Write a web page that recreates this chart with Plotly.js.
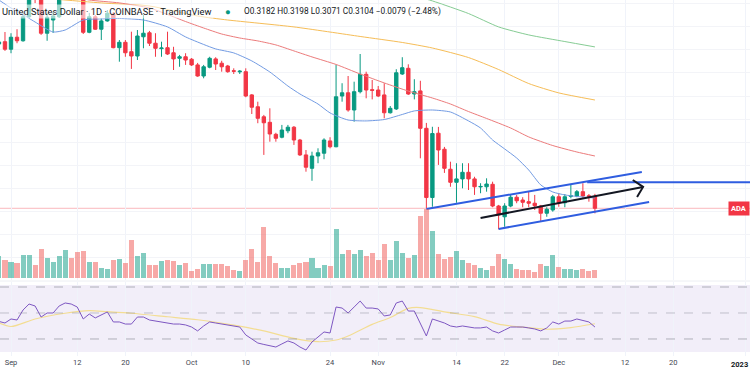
<!DOCTYPE html>
<html><head><meta charset="utf-8">
<script src="https://cdn.plot.ly/plotly-3.0.1.min.js"></script>
<style>html,body{margin:0;padding:0;background:#fff}#chart{width:750px;height:375px}</style>
</head><body><div id="chart"></div>
<script>
// ---- daily candles, ADA/USD 1D, Aug 30 2022 .. Dec 7 2022 ----
const firstDay = '2022-08-30';
const open = [0.4172,0.4187,
0.4138,0.4216,0.4193,0.4349,0.4497,0.4510,0.4242,0.4328,0.4349,0.4510,
0.4588,0.4562,0.4536,0.4248,0.4349,0.4268,0.4322,0.4367,0.4148,0.4183,
0.4122,0.4094,0.4219,0.4245,0.4177,0.4142,0.4148,0.4115,0.4079,0.4089,
0.4073,0.4036,0.3964,0.4021,0.4075,0.4047,0.4029,0.3998,0.3991,0.3992,
0.3841,0.3764,0.3699,0.3663,0.3585,0.3566,0.3608,0.3631,0.3548,0.3451,
0.3364,0.3444,0.3462,0.3542,0.3504,0.3834,0.3855,0.3743,0.3862,0.3975,0.3875,
0.3873,0.3841,0.3725,0.3750,0.3977,0.4014,0.3847,0.3867,0.3624,0.3174,
0.3592,0.3488,0.3358,0.3273,0.3295,0.3338,0.3295,0.3243,0.3244,0.3260,
0.3119,0.3049,0.3119,0.3176,0.3158,0.3147,0.3137,0.3119,0.3072,0.3093,
0.3179,0.3140,0.3182,0.3184,0.3212,0.3185,0.3182];
const high = [0.4198,0.4250,
0.4242,0.4268,0.4372,0.4523,0.4549,0.4536,0.4372,0.4380,0.4556,0.4627,
0.4640,0.4614,0.4588,0.4374,0.4361,0.4339,0.4393,0.4380,0.4198,0.4198,
0.4252,0.4263,0.4361,0.4257,0.4242,0.4187,0.4252,0.4154,0.4101,0.4112,
0.4081,0.4049,0.4036,0.4089,0.4086,0.4063,0.4036,0.4014,0.4003,0.4014,
0.3847,0.3797,0.3711,0.3754,0.3595,0.3646,0.3646,0.3639,0.3555,0.3483,
0.3472,0.3494,0.3559,0.3566,0.4036,0.3917,0.3964,0.3927,0.4107,0.3992,0.3938,
0.3899,0.3917,0.3769,0.4008,0.4086,0.4040,0.3943,0.3933,0.3659,0.3634,
0.3633,0.3503,0.3407,0.3397,0.3397,0.3397,0.3309,0.3267,0.3299,0.3277,
0.3126,0.3137,0.3191,0.3191,0.3176,0.3212,0.3191,0.3126,0.3111,0.3191,
0.3202,0.3197,0.3256,0.3223,0.3267,0.3197,0.3198];
const low = [0.4159,0.4127,
0.4112,0.4177,0.4187,0.4341,0.4438,0.4231,0.4193,0.4244,0.4341,0.4484,
0.4523,0.4497,0.4237,0.4242,0.4263,0.4198,0.4317,0.4144,0.4057,0.4089,
0.4010,0.4068,0.4144,0.4159,0.4089,0.4089,0.4101,0.4003,0.4024,0.4036,
0.4029,0.3959,0.3949,0.4014,0.4003,0.3992,0.3985,0.3977,0.3977,0.3826,
0.3717,0.3657,0.3451,0.3537,0.3537,0.3559,0.3592,0.3516,0.3444,0.3342,
0.3283,0.3397,0.3423,0.3494,0.3501,0.3797,0.3732,0.3667,0.3851,0.3819,0.3812,
0.3827,0.3689,0.3720,0.3743,0.3971,0.3841,0.3812,0.3429,0.3104,0.3114,
0.3386,0.3334,0.3244,0.3140,0.3234,0.3223,0.3191,0.3202,0.3212,0.3111,
0.2968,0.2984,0.3111,0.3137,0.3111,0.3111,0.3093,0.3017,0.3049,0.3082,
0.3114,0.3111,0.3169,0.3176,0.3169,0.3147,0.3071];
const close = [0.4185,0.4138,
0.4216,0.4193,0.4349,0.4491,0.4465,0.4242,0.4346,0.4354,0.4510,0.4588,
0.4562,0.4536,0.4248,0.4349,0.4268,0.4322,0.4372,0.4148,0.4183,0.4115,
0.4094,0.4224,0.4242,0.4177,0.4144,0.4146,0.4107,0.4075,0.4089,0.4068,
0.4036,0.3964,0.4024,0.4079,0.4042,0.4024,0.3992,0.3995,0.3995,0.3834,
0.3761,0.3689,0.3660,0.3587,0.3559,0.3613,0.3631,0.3548,0.3451,0.3371,
0.3444,0.3465,0.3548,0.3504,0.3829,0.3855,0.3743,0.3862,0.3975,0.3873,0.3871,
0.3834,0.3725,0.3754,0.3985,0.4018,0.3847,0.3862,0.3624,0.3174,0.3590,
0.3483,0.3364,0.3273,0.3295,0.3338,0.3295,0.3244,0.3246,0.3262,0.3119,
0.3061,0.3119,0.3176,0.3153,0.3143,0.3137,0.3121,0.3072,0.3098,0.3179,
0.3140,0.3179,0.3185,0.3212,0.3184,0.3182,0.3104];
const volumeM = [44,37,
33,31,47,47,27,59,41,33,45,56,
41,53,55,33,33,21,18,36,39,31,
76,44,51,26,26,34,37,35,27,31,
15,19,28,29,29,29,25,17,14,36,
59,33,103,45,31,21,21,27,31,33,
41,21,26,25,99,48,56,49,57,45,51,
37,68,37,75,51,40,46,125,139,95,
49,38,43,54,36,31,26,21,16,24,
49,39,28,18,16,17,13,28,24,46,
23,19,19,17,19,15,16];
const rsi14 = [43.5,42.3,
45.4,44.6,52.3,56.9,55.4,46.9,50.0,50.0,55.4,57.7,
56.9,54.6,45.4,49.2,46.2,48.5,50.8,43.1,43.1,41.5,
41.5,46.9,46.9,44.6,43.8,43.1,41.9,41.5,41.5,40.8,
39.2,36.2,40.0,43.1,42.3,41.5,40.4,39.6,39.2,33.1,
30.0,26.9,25.8,24.6,23.8,26.2,28.5,26.9,23.8,21.5,
27.7,31.5,35.4,34.6,54.6,53.8,50.0,54.6,59.2,53.8,53.8,
53.1,47.7,48.5,57.7,59.2,51.5,51.5,42.3,32.3,45.4,
43.8,42.3,40.0,39.2,40.0,39.2,38.5,38.5,39.2,36.2,
34.6,36.9,39.2,39.2,39.2,38.5,37.7,36.2,38.5,43.1,
41.5,43.8,43.8,45.4,44.2,43.1,39.2];

// ---- RSI-based MA ----
const rsiMaDates = ['2022-08-30','2022-09-01','2022-09-05','2022-09-10','2022-09-14','2022-09-17','2022-09-21','2022-09-27','2022-10-02','2022-10-08','2022-10-13','2022-10-18','2022-10-22','2022-10-25','2022-10-27','2022-10-31','2022-11-03','2022-11-06','2022-11-08','2022-11-12','2022-11-17','2022-11-21','2022-11-25','2022-11-29','2022-12-03','2022-12-07'];
const rsiMa = [42.3,39.6,45.4,49.8,51.8,51.0,49.8,47.1,44.8,40.6,36.2,30.5,27.9,29.2,32.3,41.2,46.5,53.6,54.2,50.8,47.2,41.5,39.1,37.5,38.8,41.7];

// ---- moving averages on price ----
const maBlueDates = ['2022-08-30','2022-09-01','2022-09-02','2022-09-05','2022-09-08','2022-09-10','2022-09-13','2022-09-16','2022-09-19','2022-09-23','2022-09-27','2022-09-30','2022-10-03','2022-10-05','2022-10-08','2022-10-11','2022-10-14','2022-10-17','2022-10-19','2022-10-22','2022-10-24','2022-10-27','2022-10-30','2022-11-02','2022-11-05','2022-11-07','2022-11-10','2022-11-13','2022-11-16','2022-11-18','2022-11-20','2022-11-22','2022-11-24','2022-11-26','2022-11-28','2022-11-30','2022-12-02','2022-12-04','2022-12-07'];
const maBlue = [0.4458,0.4406,0.4387,0.4315,0.4250,0.4263,0.4328,0.4335,0.4338,0.4328,0.4283,0.4218,0.4169,0.4140,0.4114,0.4062,0.3990,0.3899,0.3847,0.3782,0.3724,0.3678,0.3672,0.3681,0.3714,0.3737,0.3743,0.3730,0.3672,0.3626,0.3548,0.3490,0.3431,0.3353,0.3256,0.3210,0.3191,0.3181,0.3171];
const maRedDates = ['2022-09-12','2022-09-14','2022-09-19','2022-09-24','2022-09-27','2022-09-30','2022-10-03','2022-10-06','2022-10-09','2022-10-12','2022-10-15','2022-10-18','2022-10-21','2022-10-25','2022-10-29','2022-11-02','2022-11-06','2022-11-10','2022-11-13','2022-11-16','2022-11-19','2022-11-23','2022-11-26','2022-11-30','2022-12-04','2022-12-07'];
const maRed = [0.4478,0.4458,0.4439,0.4406,0.4364,0.4318,0.4276,0.4237,0.4211,0.4192,0.4166,0.4127,0.4088,0.4039,0.3977,0.3919,0.3866,0.3821,0.3782,0.3733,0.3688,0.3626,0.3568,0.3512,0.3470,0.3444];
const maOrangeDates = ['2022-09-06','2022-09-16','2022-09-24','2022-10-02','2022-10-07','2022-10-18','2022-10-29','2022-11-05','2022-11-10','2022-11-16','2022-11-21','2022-11-26','2022-12-01','2022-12-07'];
const maOrange = [0.4471,0.4439,0.4419,0.4354,0.4328,0.4283,0.4221,0.4182,0.4146,0.4084,0.4006,0.3915,0.3854,0.3808];
const maGreenDates = ['2022-10-31','2022-11-05','2022-11-10','2022-11-16','2022-11-21','2022-11-26','2022-12-02','2022-12-07'];
const maGreen = [0.4588,0.4510,0.4452,0.4370,0.4283,0.4231,0.4188,0.4153];

// ---- hand-drawn lines (endpoints in date / price) ----
const upperChannelX = ['2022-11-09','2022-12-14 19:00'];
const upperChannelY = [0.3100,0.3340];
const lowerChannelX = ['2022-11-21','2022-12-16'];
const lowerChannelY = [0.2970,0.3145];
const resistanceX = ['2022-12-05 17:00','2023-01-06'];
const resistanceY = [0.3273,0.3273];
const arrowX = ['2022-11-18','2022-12-15'];
const arrowY = [0.3041,0.3243];
const arrowHeadX = ['2022-12-13 07:00','2022-12-15','2022-12-14'];
const arrowHeadY = [0.3288,0.3243,0.3178];

// ---- axis labels ----
const tickDates = ['2022-09-01','2022-09-12','2022-09-20','2022-10-01','2022-10-10','2022-10-24','2022-11-01','2022-11-14','2022-11-22','2022-12-01','2022-12-12','2022-12-20','2023-01-01'];
const tickLabels = ['Sep','12','20','Oct','10','24','Nov','14','22','Dec','12','20',''];
const yearLabel = '2023';
const headerTitle = 'United States Dollar · 1D · COINBASE · TradingView';
const lastPrice = 0.3104;
const headerOHLC = 'O0.3182 H0.3198 L0.3071 C0.3104 −0.0079 (−2.48%)';
const symbolTag = 'ADA';

function dayList(start, n){
  const out=[]; const t0=Date.parse(start+'T00:00:00Z');
  for(let i=0;i<n;i++){ out.push(new Date(t0+i*86400000).toISOString().slice(0,10)); }
  return out;
}
const dates = dayList(firstDay, open.length);
const volColors = close.map((c,i)=> c>=open[i] ? 'rgba(8,153,129,0.5)' : 'rgba(239,83,80,0.5)');

const UP='#089981', DN='#f23645';
const F='Roboto, sans-serif';
const traces = [
  {type:'candlestick', x:dates, open:open, high:high, low:low, close:close, xaxis:'x2', yaxis:'y',
   increasing:{line:{color:UP,width:1}, fillcolor:UP}, decreasing:{line:{color:DN,width:1}, fillcolor:DN},
   whiskerwidth:0, hoverinfo:'skip'},
  {type:'scatter', mode:'lines', x:maGreenDates, y:maGreen, xaxis:'x2', yaxis:'y', line:{color:'#86cc94',width:1,shape:'spline',smoothing:0.6}, hoverinfo:'skip'},
  {type:'scatter', mode:'lines', x:maOrangeDates, y:maOrange, xaxis:'x2', yaxis:'y', line:{color:'#f6bd57',width:1,shape:'spline',smoothing:0.6}, hoverinfo:'skip'},
  {type:'scatter', mode:'lines', x:maRedDates, y:maRed, xaxis:'x2', yaxis:'y', line:{color:'#ec7b7b',width:1,shape:'spline',smoothing:0.6}, hoverinfo:'skip'},
  {type:'scatter', mode:'lines', x:maBlueDates, y:maBlue, xaxis:'x2', yaxis:'y', line:{color:'#729be3',width:1,shape:'spline',smoothing:0.6}, hoverinfo:'skip'},
  {type:'scatter', mode:'lines', x:upperChannelX, y:upperChannelY, xaxis:'x2', yaxis:'y', line:{color:'#2f5de0',width:2}, hoverinfo:'skip'},
  {type:'scatter', mode:'lines', x:lowerChannelX, y:lowerChannelY, xaxis:'x2', yaxis:'y', line:{color:'#2f5de0',width:2}, hoverinfo:'skip'},
  {type:'scatter', mode:'lines', x:resistanceX, y:resistanceY, xaxis:'x2', yaxis:'y', line:{color:'#2f5de0',width:2}, hoverinfo:'skip'},
  {type:'scatter', mode:'lines', x:arrowX, y:arrowY, xaxis:'x2', yaxis:'y', line:{color:'#131722',width:2}, hoverinfo:'skip'},
  {type:'scatter', mode:'lines', x:arrowHeadX, y:arrowHeadY, xaxis:'x2', yaxis:'y', line:{color:'#131722',width:2}, hoverinfo:'skip'},
  {type:'bar', x:dates, y:volumeM, xaxis:'x2', yaxis:'y3', marker:{color:volColors, line:{width:0}}, width:0.84*86400000, hoverinfo:'skip'},
  {type:'scatter', mode:'lines', x:rsiMaDates, y:rsiMa, xaxis:'x', yaxis:'y2', line:{color:'#f3dd93',width:1.2,shape:'spline',smoothing:0.8}, hoverinfo:'skip'},
  {type:'scatter', mode:'lines', x:dates, y:rsi14, xaxis:'x', yaxis:'y2', line:{color:'#7e57c2',width:1}, hoverinfo:'skip'}
];

const H = 356; // plot-area height in px
const layout = {
  width:750, height:375, margin:{l:0,r:0,t:0,b:19},
  paper_bgcolor:'#ffffff', plot_bgcolor:'#ffffff', showlegend:false, boxgap:0.2, bargap:0,
  xaxis:{type:'date', range:['2022-08-30 04:09','2023-01-01 18:14'], anchor:'y2', tickvals:tickDates, ticktext:tickLabels,
    tickfont:{family:F,size:7.5,color:'#434651'}, ticks:'', showgrid:true, gridcolor:'#f0f3fa', zeroline:false, showline:false,
    rangeslider:{visible:false}, fixedrange:true},
  xaxis2:{type:'date', matches:'x', anchor:'y', tickvals:tickDates, showticklabels:false, ticks:'', showgrid:true, gridcolor:'#f0f3fa',
    zeroline:false, showline:false, rangeslider:{visible:false}},
  yaxis:{domain:[(H-280)/H,1], range:[0.2638,0.4458], showticklabels:false, ticks:'', showgrid:true, gridcolor:'#f3f4f8',
    tick0:0.3234, dtick:0.015, zeroline:false, showline:false, fixedrange:true},
  yaxis3:{overlaying:'y', range:[-4,556], visible:false, fixedrange:true},
  yaxis2:{domain:[0,(H-282)/H], range:[16.9,73.85], showticklabels:false, ticks:'', showgrid:false, zeroline:false, showline:false, fixedrange:true},
  shapes:[
    {type:'line', xref:'paper', x0:0, x1:1, yref:'y', y0:lastPrice, y1:lastPrice, line:{color:'rgba(242,54,69,0.35)',width:1}, layer:'below'},
    {type:'line', xref:'paper', x0:0, x1:1, yref:'paper', y0:(H-281)/H, y1:(H-281)/H, line:{color:'#eceef3',width:1}},
    {type:'rect', xref:'paper', x0:0, x1:1, yref:'y2', y0:20, y1:71.5, fillcolor:'rgba(126,87,194,0.1)', line:{width:0}, layer:'below'},
    {type:'line', xref:'paper', x0:0, x1:1, yref:'y2', y0:70, y1:70, line:{color:'rgba(120,123,134,0.55)',width:1,dash:'dash'}},
    {type:'line', xref:'paper', x0:0, x1:1, yref:'y2', y0:50, y1:50, line:{color:'rgba(120,123,134,0.4)',width:1,dash:'dash'}},
    {type:'line', xref:'paper', x0:0, x1:1, yref:'y2', y0:30, y1:30, line:{color:'rgba(120,123,134,0.55)',width:1,dash:'dash'}}
  ],
  annotations:[
    {xref:'paper', yref:'paper', x:0, y:1-11/H, xanchor:'left', yanchor:'middle', showarrow:false, text:headerTitle,
     font:{family:F,size:9.3,color:'#131722'}, bgcolor:'rgba(255,255,255,0.6)', borderpad:1},
    {xref:'paper', yref:'paper', x:228/750, y:1-11/H, xanchor:'center', yanchor:'middle', showarrow:false, text:'●',
     font:{family:F,size:9.5,color:'#089981'}},
    {xref:'paper', yref:'paper', x:242/750, y:1-11/H, xanchor:'left', yanchor:'middle', showarrow:false, text:headerOHLC,
     font:{family:F,size:8.3,color:'#131722'}, bgcolor:'rgba(255,255,255,0.6)', borderpad:1},
    {xref:'paper', yref:'y', x:1, y:lastPrice, xanchor:'right', yanchor:'middle', showarrow:false, text:'<b>'+symbolTag+'</b>',
     font:{family:F,size:7.5,color:'#ffffff'}, bgcolor:'#f23645', borderpad:2},
    {xref:'paper', yref:'paper', x:1, y:-9/H, xanchor:'right', yanchor:'middle', showarrow:false, text:'<b>'+yearLabel+'</b>',
     font:{family:F,size:7.5,color:'#131722'}}
  ]
};
Plotly.newPlot('chart', traces, layout, {staticPlot:true, displayModeBar:false});
</script></body></html>
